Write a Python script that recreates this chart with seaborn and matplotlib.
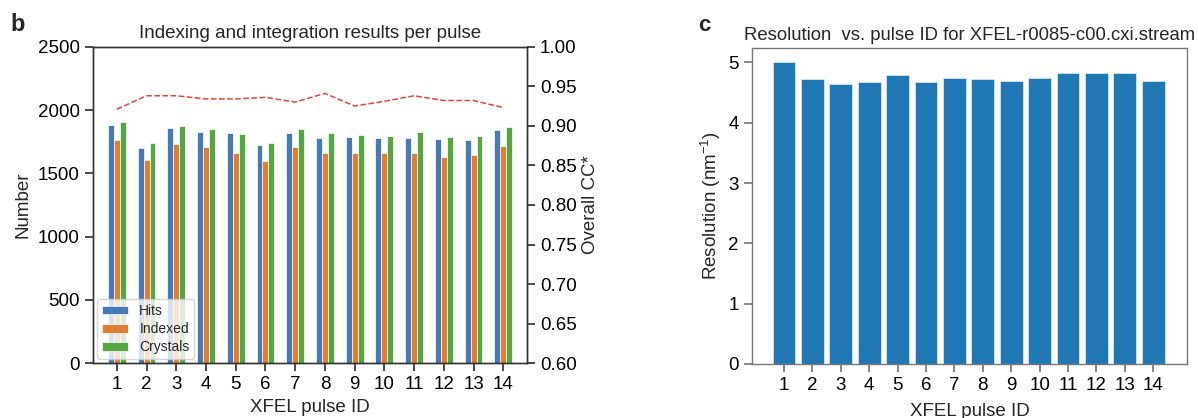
import numpy as np
import pandas as pd
import matplotlib
matplotlib.use("Agg")
import matplotlib.pyplot as plt
import seaborn as sns

# ---- data ----
pulse_ids = [str(i) for i in range(1, 15)]
hits = [1882, 1703, 1858, 1829, 1819, 1727, 1819, 1777, 1790, 1780, 1777, 1772, 1766, 1843]
indexed = [1764, 1606, 1735, 1706, 1661, 1598, 1706, 1661, 1658, 1664, 1664, 1632, 1646, 1719]
crystals = [1908, 1740, 1874, 1853, 1808, 1743, 1853, 1816, 1803, 1798, 1824, 1787, 1798, 1863]
cc_star = [0.921, 0.938, 0.938, 0.934, 0.934, 0.936, 0.930, 0.941, 0.925, 0.931, 0.938, 0.932, 0.932, 0.923]
resolution = [5.01, 4.72, 4.65, 4.67, 4.79, 4.67, 4.74, 4.72, 4.70, 4.74, 4.83, 4.83, 4.83, 4.69]
series_names = ["Hits", "Indexed", "Crystals"]
series_colors = ["#4679b6", "#e07e35", "#55a640"]

sns.set_theme(style="ticks")
plt.rcParams["font.family"] = ["Liberation Sans", "DejaVu Sans"]
plt.rcParams["mathtext.fontset"] = "custom"
plt.rcParams["mathtext.rm"] = "Liberation Sans"
plt.rcParams["mathtext.it"] = "Liberation Sans:italic"

fig = plt.figure(figsize=(11.98, 4.18), dpi=100)
ax1 = fig.add_axes([0.0774, 0.1309, 0.3623, 0.7574])
ax3 = fig.add_axes([0.6277, 0.1292, 0.3631, 0.7560])

# ---- panel b ----
df = pd.DataFrame({
    "pulse": pulse_ids * 3,
    "value": hits + indexed + crystals,
    "series": sum([[n] * len(pulse_ids) for n in series_names], []),
})
sns.barplot(data=df, x="pulse", y="value", hue="series", order=pulse_ids,
            hue_order=series_names, palette=series_colors, saturation=1,
            width=0.6, edgecolor="white", linewidth=0.5, ax=ax1)
ax1.set_xlim(-0.81, 13.79)
ax1.set_ylim(0, 2500)
ax1.set_yticks([0, 500, 1000, 1500, 2000, 2500])
ax1.set_xlabel("XFEL pulse ID", fontsize=13.5, labelpad=4)
ax1.set_ylabel("Number", fontsize=13.5)
ax1.set_title("Indexing and integration results per pulse", fontsize=13.5)
ax1.tick_params(labelsize=13.5, colors="#333333", labelcolor="black")
leg = ax1.legend(loc="lower left", fontsize=10, title=None, handlelength=1.9,
                 handleheight=0.6, labelspacing=0.3, framealpha=0.8,
                 borderaxespad=0.3, borderpad=0.35)

ax2 = ax1.twinx()
pos = np.arange(len(pulse_ids))
sns.lineplot(x=pos, y=cc_star, ax=ax2, color="#e2463d", linestyle="--", linewidth=1.1)
ax2.set_ylim(0.6, 1.0)
ax2.set_yticks(np.arange(0.6, 1.0001, 0.05))
ax2.set_yticklabels([f"{v:.2f}" for v in np.arange(0.6, 1.0001, 0.05)])
ax2.set_ylabel("Overall CC*", fontsize=13.5)
ax2.tick_params(labelsize=13.5, colors="#333333", labelcolor="black")
ax2.set_xlim(-0.81, 13.79)
for a in (ax1, ax2):
    for s in a.spines.values():
        s.set_color("#333333")
        s.set_linewidth(1.0)

# ---- panel c ----
sns.barplot(x=pulse_ids, y=resolution, order=pulse_ids, color="#1f77b4", saturation=1,
            width=0.8, edgecolor="#d6e4f0", linewidth=0.6, ax=ax3)
ax3.set_xlim(-1.13, 14.19)
ax3.set_ylim(0, 5.24)
ax3.set_yticks([0, 1, 2, 3, 4, 5])
ax3.set_xlabel("XFEL pulse ID", fontsize=13.5, labelpad=6)
ax3.set_ylabel("Resolution (nm$^{-1}$)", fontsize=13.5)
ax3.set_title("Resolution  vs. pulse ID for XFEL-r0085-c00.cxi.stream", fontsize=13.3)
ax3.tick_params(labelsize=13.5, colors="#777777", labelcolor="black")
for s in ax3.spines.values():
    s.set_visible(True)
    s.set_color("#777777")
    s.set_linewidth(1.0)

fig.text(0.009, 0.925, "b", fontsize=17, fontweight="bold")
fig.text(0.583, 0.925, "c", fontsize=16, fontweight="bold")

fig.savefig("out.png", dpi=100)
